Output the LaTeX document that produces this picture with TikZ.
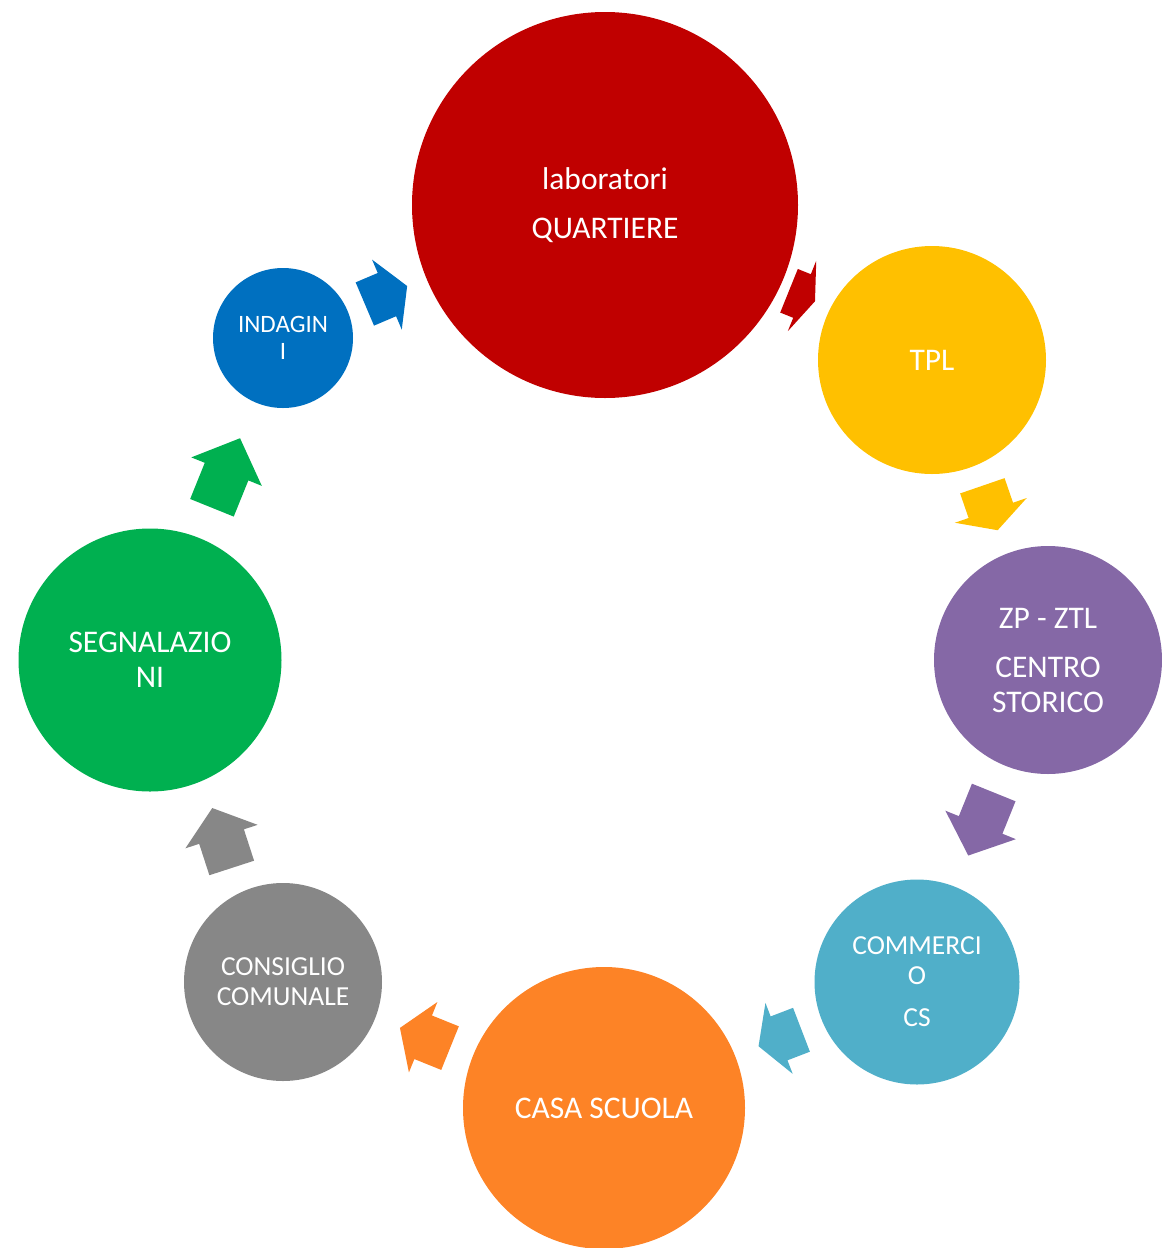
\documentclass[tikz,border=0pt]{standalone}
\usepackage{fontspec}
\setmainfont{Carlito}

\definecolor{cred}{HTML}{C00000}
\definecolor{cyellow}{HTML}{FFC000}
\definecolor{cpurple}{HTML}{8568A6}
\definecolor{ccyan}{HTML}{50AFC9}
\definecolor{corange}{HTML}{FD8326}
\definecolor{cgray}{HTML}{878787}
\definecolor{cgreen}{HTML}{00B050}
\definecolor{cblue}{HTML}{0070C0}

\tikzset{
    stage/.style={circle, inner sep=0pt, text=white, align=center, font=\fontsize{31.5}{35}\selectfont}
}

% block arrow: colour, position, angle, length, head length
\newcommand{\turnarrow}[5]{
    \fill[#1, shift={#2}, rotate=#3] ({-#4/2},-23.5) -- ({#4/2-#5},-23.5) -- ({#4/2-#5},-38) -- ({#4/2},0)
        -- ({#4/2-#5},38) -- ({#4/2-#5},23.5) -- ({-#4/2},23.5) -- cycle;
}

\begin{document}
\begin{tikzpicture}[x=1pt,y=-1pt]
    \useasboundingbox (0,0) rectangle (1162,1248);
    % stages of the cycle
    \node[stage, fill=cred, minimum size=386pt] (quart) at (605,205) {laboratori\\[14pt]QUARTIERE};
    \node[stage, fill=cyellow, minimum size=228pt] (tpl) at (932,360) {TPL};
    \node[stage, fill=cpurple, minimum size=228pt] (ztl) at (1048,660) {ZP - ZTL\\[14pt]CENTRO\\STORICO};
    \node[stage, fill=ccyan, minimum size=205pt, font=\fontsize{27.5}{30}\selectfont] (comm) at (917,982) {COMMERCI\\O\\[12pt]CS};
    \node[stage, fill=corange, minimum size=282pt] (casa) at (604,1108) {CASA SCUOLA};
    \node[stage, fill=cgray, minimum size=198pt, font=\fontsize{27.5}{30}\selectfont] (cons) at (283,982) {CONSIGLIO\\COMUNALE};
    \node[stage, fill=cgreen, minimum size=263pt] (segn) at (150,660) {SEGNALAZIO\\NI};
    \node[stage, fill=cblue, minimum size=140pt, font=\fontsize{25}{27}\selectfont] (indag) at (283,338) {INDAGIN\\I};
    % arrows between them
    \turnarrow{cred}{(802,296)}{-22}{28}{14}
    \turnarrow{cyellow}{(990,508)}{-71}{47}{21}
    \turnarrow{cpurple}{(981,824)}{-112}{68}{33}
    \turnarrow{ccyan}{(780,1038)}{201}{46}{22}
    \turnarrow{corange}{(425,1038)}{158}{54}{25}
    \turnarrow{cgray}{(222,838)}{108}{63}{30}
    \turnarrow{cgreen}{(226,473)}{68}{75}{36}
    \turnarrow{cblue}{(386,295)}{23}{46}{22}
\end{tikzpicture}
\end{document}
